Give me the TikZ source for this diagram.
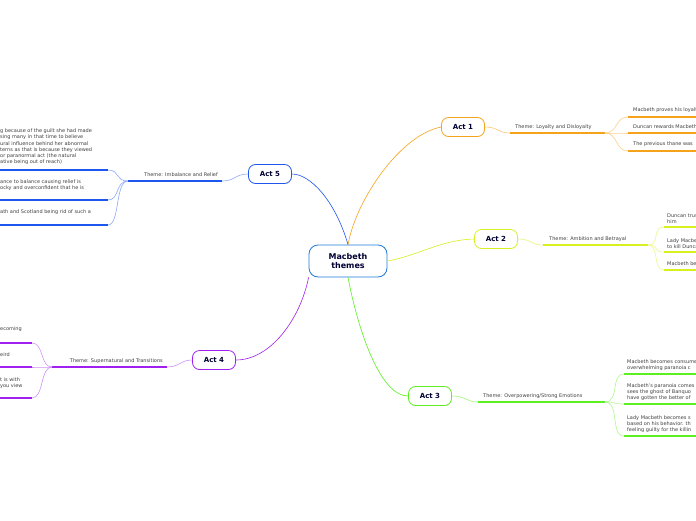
\documentclass[tikz,border=0pt]{standalone}
\usepackage{fontspec}
\setmainfont{DejaVu Sans}
\begin{document}
\begin{tikzpicture}[x=1pt,y=-1pt,
  txt/.style={font=\fontsize{5}{6.2}\selectfont,text=black!75,inner sep=0pt,align=left},
  actbox/.style={draw,line width=0.8pt,rounded corners=7pt,minimum width=43pt,minimum height=19pt,font=\fontsize{7}{8}\selectfont\bfseries,text=black!80!blue},
  ul/.style={line width=1.2pt},
  cn/.style={line width=0.6pt}]
\definecolor{cA}{HTML}{F5A31A}\definecolor{cB}{HTML}{D8F020}\definecolor{cC}{HTML}{5CF020}
\definecolor{cD}{HTML}{A020F0}\definecolor{cE}{HTML}{1E56F0}\definecolor{cM}{HTML}{1E7AD8}
\useasboundingbox (0,0) rectangle (696,520);
\clip (0,0) rectangle (696,520);
\fill[white] (0,0) rectangle (696,520);
\node[draw=cM,line width=0.8pt,rounded corners=9pt,minimum width=78pt,minimum height=32pt,align=center,font=\fontsize{8}{9.5}\selectfont\bfseries,text=black!80!blue] (m) at (348,261) {Macbeth\\themes};
% Act 1
\node[actbox,draw=cA] (a1) at (463,127) {Act 1};
\draw[cA,cn] (m.north) ..controls (356,200) and (400,135).. (a1.west);
\coordinate (t1s) at (510,133); \coordinate (t1e) at (605,133);
\draw[cA!60,cn] (a1.east) ..controls (498,127) and (498,133).. (t1s);
\draw[cA,ul] (t1s) -- (t1e);
\node[txt,anchor=south west] (t1) at (515,130) {Theme: Loyalty and Disloyalty};
\foreach \y/\t in {117/Macbeth proves his loyalty,133/Duncan rewards Macbeth,151/The previous thane was}{
  \draw[cA!50,cn] (t1e) ..controls (618,133) and (615,\y).. (628,\y);
  \draw[cA,ul] (628,\y) -- (700,\y);
  \node[txt,anchor=south west] at (633,\y-4) {\t};}
% Act 2
\node[actbox,draw=cB] (a2) at (496,239) {Act 2};
\draw[cB,cn] (m.east) ..controls (420,255) and (440,240).. (a2.west);
\coordinate (t2s) at (543,245); \coordinate (t2e) at (648,245);
\draw[cB!60,cn] (a2.east) ..controls (532,239) and (530,245).. (t2s);
\draw[cB,ul] (t2s) -- (t2e);
\node[txt,anchor=south west] (t2) at (549,242) {Theme: Ambition and Betrayal};
\foreach \y/\t in {227/{Duncan trusts\\him},252/{Lady Macbeth\\to kill Duncan},270/{Macbeth begins}}{
  \draw[cB!50,cn] (t2e) ..controls (660,245) and (652,\y).. (664,\y);
  \draw[cB,ul] (664,\y) -- (700,\y);
  \node[txt,anchor=south west] at (667,\y-3) {\t};}
% Act 3
\node[actbox,draw=cC] (a3) at (430,396) {Act 3};
\draw[cC,cn] (m.south) ..controls (358,330) and (380,396).. (a3.west);
\coordinate (t3s) at (478,402); \coordinate (t3e) at (605,402);
\draw[cC!60,cn] (a3.east) ..controls (466,396) and (466,402).. (t3s);
\draw[cC,ul] (t3s) -- (t3e);
\node[txt,anchor=south west] (t3) at (483,399) {Theme: Overpowering/Strong Emotions};
\foreach \y/\t in {374/{Macbeth becomes consumed by\\overwhelming paranoia c},404/{Macbeth's paranoia comes\\sees the ghost of Banquo\\have gotten the better of},436/{Lady Macbeth becomes s\\based on his behavior. th\\feeling guilty for the killin}}{
  \draw[cC!50,cn] (t3e) ..controls (620,402) and (610,\y).. (624,\y);
  \draw[cC,ul] (624,\y) -- (700,\y);
  \node[txt,anchor=south west] at (627,\y-3) {\t};}
% Act 4
\node[actbox,draw=cD] (a4) at (214,360) {Act 4};
\draw[cD,cn] (m.south west) ..controls (300,320) and (270,360).. (a4.east);
\coordinate (t4s) at (167,367); \coordinate (t4e) at (52,367);
\draw[cD!50,cn] (a4.west) ..controls (180,360) and (180,367).. (t4s);
\draw[cD,ul] (t4s) -- (t4e);
\node[txt,anchor=south east] (t4) at (163,364) {Theme: Supernatural and Transitions};
\foreach \y/\t in {343/{ecoming},367/{eird},398/{t is with\\ you view}}{
  \draw[cD!50,cn] (t4e) ..controls (40,367) and (44,\y).. (32,\y);
  \draw[cD,ul] (-5,\y) -- (32,\y);}
\node[txt,anchor=south west] at (0,332) {ecoming};
\node[txt,anchor=south west] at (0,357) {eird};
\node[txt,anchor=south west] at (0,389) {t is with\\ you view};
% Act 5
\node[actbox,draw=cE] (a5) at (270,174) {Act 5};
\draw[cE,cn] (m.north) ..controls (335,200) and (310,174).. (a5.east);
\coordinate (t5s) at (222,181); \coordinate (t5e) at (128,181);
\draw[cE!50,cn] (a5.west) ..controls (235,174) and (235,181).. (t5s);
\draw[cE,ul] (t5s) -- (t5e);
\node[txt,anchor=south east] (t5) at (218,177) {Theme: Imbalance and Relief};
\foreach \y in {170,200,225}{
  \draw[cE!50,cn] (t5e) ..controls (115,181) and (120,\y).. (108,\y);
  \draw[cE,ul] (-5,\y) -- (108,\y);}
\node[txt,anchor=south west] at (0,165) {g because of the guilt she had made\\sing many in that time to believe\\ural influence behind her abnormal\\terns as that is because they viewed\\ or paranormal act (the natural\\ative being out of reach)};
\node[txt,anchor=south west] at (0,191) {ance to balance causing relief is\\ocky and overconfident that he is};
\node[txt,anchor=south west] at (0,215) {ath and Scotland being rid of such a};
\end{tikzpicture}
\end{document}
